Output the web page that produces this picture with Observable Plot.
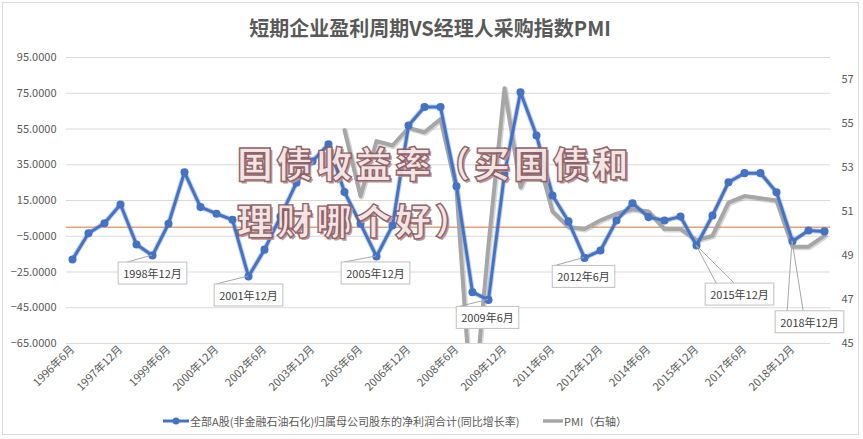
<!DOCTYPE html>
<html><head><meta charset="utf-8">
<script src="https://cdn.jsdelivr.net/npm/d3@7"></script>
<script src="https://cdn.jsdelivr.net/npm/@observablehq/plot@0.6"></script>
<style>
body{margin:0;background:#fff;}
#wrap{position:relative;width:863px;height:439px;overflow:hidden;font-family:"Noto Sans CJK SC","Noto Sans",sans-serif;background:#fff;}
#frame{position:absolute;left:2px;top:2px;width:857px;height:433px;border:1px solid #d9d9d9;box-sizing:border-box;}
#title{position:absolute;left:0;top:16px;width:860px;text-align:center;font-size:20px;line-height:24px;font-weight:bold;color:#595959;}
#chart{position:absolute;left:0;top:0;}
.lg{position:absolute;font-size:11px;line-height:16px;color:#595959;white-space:nowrap;}
#wm{position:absolute;left:237px;top:134px;font-size:36px;line-height:57px;letter-spacing:3.5px;font-weight:900;color:#f4e4e4;-webkit-text-stroke:1.4px #8c5c62;text-shadow:2px 2px 0 #b99396;white-space:nowrap;opacity:0.95;}
</style></head>
<body>
<div id="wrap">
  <div id="frame"></div>
  <div id="chart"></div>
  <div id="title">短期企业盈利周期VS经理人采购指数PMI</div>
  <svg class="lg" style="left:163px;top:416px" width="26" height="10"><line x1="0" y1="5" x2="26" y2="5" stroke="#4472c4" stroke-width="3"/><circle cx="13" cy="5" r="3.5" fill="#4472c4"/></svg>
  <div class="lg" id="lg1" style="left:190px;top:413px"></div>
  <svg class="lg" style="left:543px;top:416px" width="20" height="10"><line x1="0" y1="5" x2="20" y2="5" stroke="#a6a6a6" stroke-width="3.5"/></svg>
  <div class="lg" id="lg2" style="left:564px;top:413px"></div>
  <div id="wm">国债收益率（买国债和<br>理财哪个好）</div>
</div>
<script>
// ---- data ----
const periods = ["1996年6月","1996年12月","1997年6月","1997年12月","1998年6月","1998年12月","1999年6月","1999年12月",
"2000年6月","2000年12月","2001年6月","2001年12月","2002年6月","2002年12月","2003年6月","2003年12月",
"2004年6月","2004年12月","2005年6月","2005年12月","2006年6月","2006年12月","2007年6月","2007年12月",
"2008年6月","2008年12月","2009年6月","2009年12月","2010年6月","2010年12月","2011年6月","2011年12月",
"2012年6月","2012年12月","2013年6月","2013年12月","2014年6月","2014年12月","2015年6月","2015年12月",
"2016年6月","2016年12月","2017年6月","2017年12月","2018年6月","2018年12月","2019年6月","2019年12月"];
const profitGrowth = [-18,-3.3,2.3,12.8,-9.6,-15.8,2,30.8,
11.3,7.6,4.2,-27.5,-12.5,6,25,37,
46.5,19.7,2,-16.3,1,57,67.3,67.3,
23,-36.3,-40.6,30,75.6,51.4,17.8,3.3,
-17.1,-13,3.8,13.5,5.7,3.8,6,-10.2,
6.6,25.2,30.3,30.3,19.6,-7.8,-1.8,-2.3];
const pmi = [null,null,null,null,null,null,null,null,
null,null,null,null,null,null,null,null,
null,54.7,51.7,54.2,54.0,54.8,54.6,55.2,
52.0,41.5,49.5,56.6,52.1,53.7,51.0,50.3,
50.2,50.6,50.9,51.1,51.0,50.2,50.2,49.7,
49.9,51.4,51.7,51.6,51.5,49.4,49.4,49.9];
const zeroLine = [0];
const leftTicks = [-65,-45,-25,-5,15,35,55,75,95];
const rightTicks = [45,47,49,51,53,55,57];
const xTickLabels = ["1996年6月","1997年12月","1999年6月","2000年12月","2002年6月","2003年12月","2005年6月","2006年12月",
"2008年6月","2009年12月","2011年6月","2012年12月","2014年6月","2015年12月","2017年6月","2018年12月"];
const calloutLabels = ["1998年12月","2001年12月","2005年12月","2009年6月","2012年6月","2015年12月","2018年12月"];
const seriesNames = ["全部A股(非金融石油石化)归属母公司股东的净利润合计(同比增长率)","PMI（右轴）"];
const titleText = "短期企业盈利周期VS经理人采购指数PMI";

// ---- layout (pixel offsets for callout boxes, leader attach offsets) ----
const calloutLayout = {
  "1998年12月": {dx: 0, dy: 19, leaders: [9]},
  "2001年12月": {dx: 0, dy: 20, leaders: [2]},
  "2005年12月": {dx: -1, dy: 18, leaders: [3]},
  "2009年6月": {dx: -1, dy: 19, leaders: [3]},
  "2012年6月": {dx: -1, dy: 20, leaders: [3]},
  "2015年12月": {dx: 43, dy: 50, leaders: [11, 29]},
  "2018年12月": {dx: 17, dy: 82, leaders: [12, 28]}
};

document.getElementById("lg1").textContent = seriesNames[0];
document.getElementById("lg2").textContent = seriesNames[1];
document.getElementById("title").textContent = titleText;

const rows = periods.map((p, i) => ({period: p, profit: profitGrowth[i], pmi: pmi[i]}));
// secondary axis: PMI [45,58] mapped onto left axis [-65,95]
const toLeft = d3.scaleLinear([45, 58], [-65, 95]);
const pmiRows = rows.filter(d => d.pmi != null);
const font = '"Noto Sans CJK SC","Noto Sans",sans-serif';

const calloutMarks = calloutLabels.map((lab, k) => {
  const i = periods.indexOf(lab);
  const L = calloutLayout[lab];
  return Plot.text([{period: lab, value: profitGrowth[i], label: lab}], {
    x: "period", y: "value", text: "label", dx: L.dx, dy: L.dy,
    fill: "#404040", fontSize: 11, ariaDescription: "callout-" + k
  });
});

const chart = Plot.plot({
  width: 863, height: 405,
  marginTop: 57, marginBottom: 62, marginLeft: 66, marginRight: 33,
  x: {type: "point", domain: periods, padding: 0, axis: null},
  y: {domain: [-65, 95], axis: null},
  style: {fontFamily: font, fontSize: "11px", color: "#595959", background: "transparent"},
  marks: [
    Plot.gridY(leftTicks, {stroke: "#d9d9d9", strokeOpacity: 1, strokeWidth: 1}),
    Plot.axisY(leftTicks, {tickSize: 0, tickPadding: 10, tickFormat: d3.format(".4f"), fill: "#595959", fontSize: 11, label: null}),
    Plot.axisX(xTickLabels, {tickRotate: -45, tickSize: 0, tickPadding: 4, fill: "#595959", fontSize: 11, label: null}),
    Plot.text(rightTicks, {y: d => toLeft(d), text: d => String(d), frameAnchor: "right", dx: 11, textAnchor: "start", fill: "#595959", fontSize: 11}),
    Plot.ruleY(zeroLine, {stroke: "#e3a27a", strokeWidth: 1.6}),
    Plot.line(pmiRows, {x: "period", y: d => toLeft(d.pmi), stroke: "#8c8c8c", strokeWidth: 5, strokeOpacity: 0.35, clip: true, dx: 1, dy: 1}),
    Plot.line(pmiRows, {x: "period", y: d => toLeft(d.pmi), stroke: "#a6a6a6", strokeWidth: 4, clip: true}),
    Plot.line(rows, {x: "period", y: "profit", stroke: "#7f9bd6", strokeWidth: 5, strokeOpacity: 0.5}),
    Plot.line(rows, {x: "period", y: "profit", stroke: "#4472c4", strokeWidth: 3}),
    Plot.dot(rows, {x: "period", y: "profit", r: 3.3, fill: "#4472c4", stroke: "#4472c4"}),
    ...calloutMarks
  ]
});
document.getElementById("chart").append(chart);

// callout boxes and leader lines, positioned from the plot's own scales
const ns = "http://www.w3.org/2000/svg";
const sx = chart.scale("x"), sy = chart.scale("y");
const leaderG = document.createElementNS(ns, "g");
let firstCallout = null;
calloutLabels.forEach((lab, k) => {
  const g = chart.querySelector(`g[aria-description="callout-${k}"]`);
  if (!g) return;
  if (!firstCallout) firstCallout = g;
  const t = g.querySelector("text");
  const bb = t.getBBox();
  const padX = 5, padY = 3;
  const rect = document.createElementNS(ns, "rect");
  rect.setAttribute("x", bb.x - padX);
  rect.setAttribute("y", bb.y - padY);
  rect.setAttribute("width", bb.width + 2 * padX);
  rect.setAttribute("height", bb.height + 2 * padY);
  rect.setAttribute("fill", "#fff");
  rect.setAttribute("stroke", "#bfbfbf");
  rect.setAttribute("stroke-width", "1");
  if (t.getAttribute("transform")) rect.setAttribute("transform", t.getAttribute("transform"));
  t.parentNode.insertBefore(rect, t);
  const m = t.getCTM();
  const pt = chart.createSVGPoint();
  pt.x = bb.x - padX; pt.y = bb.y - padY;
  const tl = pt.matrixTransform(m);
  const i = periods.indexOf(lab);
  const px = sx.apply(lab), py = sy.apply(profitGrowth[i]);
  calloutLayout[lab].leaders.forEach(off => {
    const ln = document.createElementNS(ns, "line");
    ln.setAttribute("x1", px); ln.setAttribute("y1", py);
    ln.setAttribute("x2", tl.x + off); ln.setAttribute("y2", tl.y);
    ln.setAttribute("stroke", "#a6a6a6"); ln.setAttribute("stroke-width", "1");
    leaderG.appendChild(ln);
  });
});
if (firstCallout) firstCallout.parentNode.insertBefore(leaderG, firstCallout);
</script>
</body></html>
